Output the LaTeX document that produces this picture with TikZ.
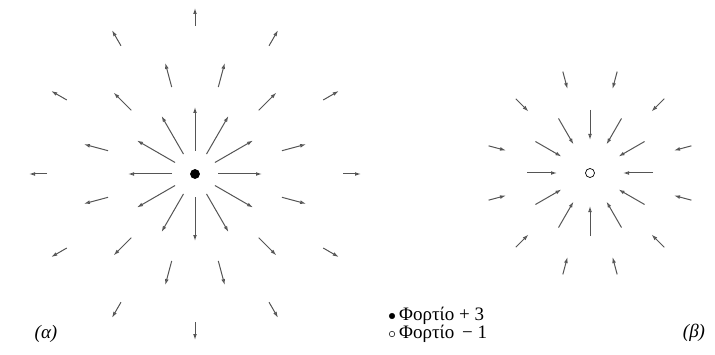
\documentclass[tikz,border=0pt]{standalone}
\usepackage{fontspec}
\setmainfont{Liberation Serif}
\usetikzlibrary{arrows.meta,positioning}
\definecolor{FieldGray}{HTML}{555555}

\begin{document}
\begin{tikzpicture}[x=1pt,y=1pt,
    fieldarrow/.style={-{Latex[open,length=6pt,width=3.8pt]},line width=1pt,draw=FieldGray},
    charge/.style={circle,draw=black,line width=0.7pt,inner sep=0pt,minimum size=9pt},
    keydot/.style={circle,draw=black,line width=0.5pt,inner sep=0pt,minimum size=5.5pt},
    legendtxt/.style={inner sep=0pt,font=\fontsize{19}{21}\selectfont},
    tag/.style={inner sep=0pt,font=\fontsize{19}{21}\selectfont\itshape}
  ]
  \useasboundingbox (0,0) rectangle (715,354);
  \node[charge,fill=black] (plus) at (195,180) {};
  \node[charge,fill=white] (minus) at (590,181) {};
  % field of the +3 charge, pointing outward
  \foreach \a in {0,30,...,330} {
    \draw[fieldarrow] ([shift={(\a:23pt)}]plus.center) -- ([shift={(\a:67pt)}]plus.center);
    \draw[fieldarrow] ([shift={(\a:148pt)}]plus.center) -- ([shift={(\a:166pt)}]plus.center);
  }
  \foreach \a in {15,45,...,345}
    \draw[fieldarrow] ([shift={(\a:90pt)}]plus.center) -- ([shift={(\a:115pt)}]plus.center);
  % field of the -1 charge, pointing inward
  \foreach \a in {0,30,...,330}
    \draw[fieldarrow] ([shift={(\a:63pt)}]minus.center) -- ([shift={(\a:33pt)}]minus.center);
  \foreach \a in {15,45,...,345}
    \draw[fieldarrow] ([shift={(\a:105pt)}]minus.center) -- ([shift={(\a:87pt)}]minus.center);
  % legend
  \node[keydot,fill=black] (dotplus) at (392,38) {};
  \node[keydot,fill=white] (dotminus) at (392,20) {};
  \node[legendtxt,right=4pt of dotplus] (keyplus) {Φορτίο + 3};
  \node[legendtxt,right=4pt of dotminus] (keyminus) {Φορτίο \,− 1};
  % panel tags
  \node[tag] (tagA) at (46,20) {(α)};
  \node[tag] (tagB) at (694,21) {(β)};
\end{tikzpicture}
\end{document}
